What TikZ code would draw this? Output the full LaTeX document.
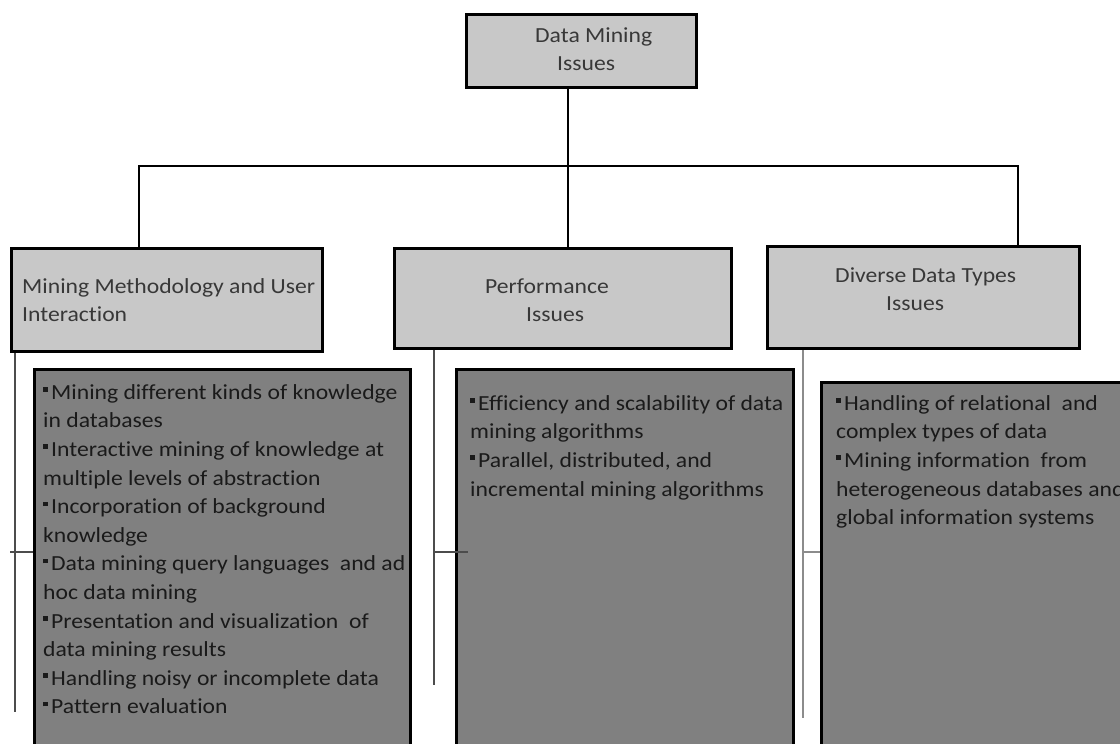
\documentclass[tikz,border=0pt]{standalone}
\usepackage{fontspec}
\setmainfont[Ligatures={NoCommon}, FakeStretch=1.1]{Carlito}
\newcommand\bul{\rule[7.5pt]{4.5pt}{4.5pt}\hspace{3.5pt}}
\newcommand\fst{\rule{0pt}{20pt}}
\definecolor{lightfill}{HTML}{C8C8C8}
\definecolor{darkfill}{HTML}{808080}
\definecolor{lighttext}{HTML}{383838}
\definecolor{darktext}{HTML}{1A1A1A}
\tikzset{
  x=1pt, y=1pt,
  lightbox/.style={draw=black, line width=3pt, fill=lightfill, inner sep=0, anchor=north west},
  darkbox/.style={draw=black, line width=3pt, fill=darkfill, inner sep=0, anchor=north west},
  txt/.style={font=\fontsize{21.5}{28.6}\selectfont, align=left, inner sep=0, anchor=north west},
  conn/.style={draw=black, line width=2.8pt},
  thinconn/.style={draw=black!70, line width=2pt},
}
\begin{document}
\begin{tikzpicture}
\fill[white] (0,0) rectangle (1120,-744);
\useasboundingbox (0,0) rectangle (1120,-744);

% top level
\node[lightbox, minimum width=230pt, minimum height=73pt] (root) at (465,-13) {};
\node[txt, text=lighttext] (roott) at (535,-22) {\fst Data Mining\\\hspace*{22pt}Issues};

% second level boxes
\node[lightbox, minimum width=311pt, minimum height=103pt] (mm) at (10,-247) {};
\node[txt, text=lighttext] (mmt) at (22,-273) {\fst Mining Methodology and User\\Interaction};

\node[lightbox, minimum width=337pt, minimum height=100pt] (perf) at (393,-247) {};
\node[txt, text=lighttext] (perft) at (485,-273) {\fst Performance\\\hspace*{41pt}Issues};

\node[lightbox, minimum width=312pt, minimum height=102pt] (dd) at (766,-245) {};
\node[txt, text=lighttext] (ddt) at (835,-262) {\fst Diverse Data Types\\\hspace*{51pt}Issues};

% connectors top
\coordinate (j)  at (568,-166);
\coordinate (jl) at (139,-166);
\coordinate (jr) at (1018,-166);
\draw[conn] (root.south -| j) -- (j);
\draw[conn] (jl |- mm.north) -- (jl) -- (jr) -- (jr |- dd.north);
\draw[conn] (j) -- (j |- perf.north);

% detail boxes
\node[darkbox, minimum width=376pt, minimum height=400pt] (mmd) at (33,-368) {};
\node[txt, text=darktext] (mmdt) at (43,-379) {\fst\bul Mining different kinds of knowledge\\
in databases\\
\bul Interactive mining of knowledge at\\
multiple levels of abstraction\\
\bul Incorporation of background\\
knowledge\\
\bul Data mining query languages\ \ and ad\\
hoc data mining\\
\bul Presentation and visualization\ \ of\\
data mining results\\
\bul Handling noisy or incomplete data\\
\bul Pattern evaluation};

\node[darkbox, minimum width=337pt, minimum height=400pt] (perfd) at (455,-368) {};
\node[txt, text=darktext] (perfdt) at (470,-390) {\fst\bul Efficiency and scalability of data\\
mining algorithms\\
\bul Parallel, distributed, and\\
incremental mining algorithms};

\node[darkbox, minimum width=330pt, minimum height=400pt] (ddd) at (820,-381) {};
\node[txt, text=darktext] (dddt) at (836,-390) {\fst\bul Handling of relational\ \ and\\
complex types of data\\
\bul Mining information\ \ from\\
heterogeneous databases and\\
global information systems};

% side connectors
\coordinate (le) at (15,-712);
\coordinate (me) at (434,-685);
\coordinate (re) at (803,-718);
\draw[thinconn] (mm.south -| le) -- (le);
\draw[thinconn] (10,-552) -- (mmd.west |- 0,-552);
\draw[thinconn] (perf.south -| me) -- (me);
\draw[thinconn] (me |- 0,-552) -- (468,-552);
\draw[thinconn, draw=black!45] (dd.south -| re) -- (re);
\draw[thinconn, draw=black!45] (re |- 0,-552) -- (ddd.west |- 0,-552);
\end{tikzpicture}
\end{document}
